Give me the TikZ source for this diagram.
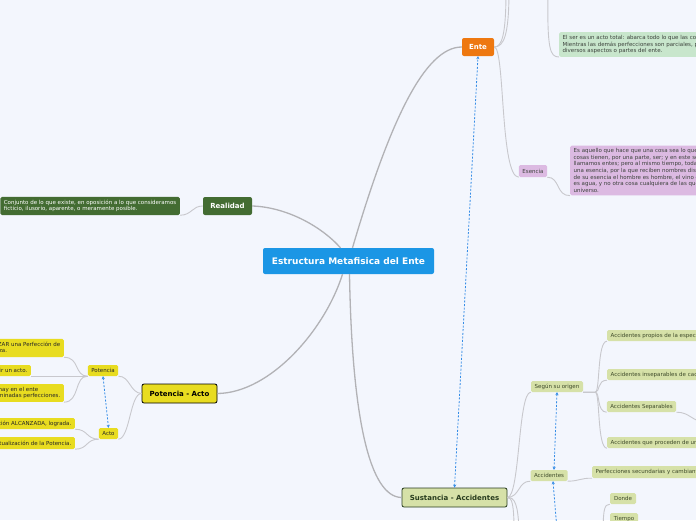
\documentclass[tikz,border=0pt]{standalone}
\usepackage{fontspec}
\setmainfont{DejaVu Sans}
\usepackage{xcolor}
\usetikzlibrary{arrows.meta}
\definecolor{bgpage}{RGB}{243,246,253}
\definecolor{titleblue}{RGB}{27,150,229}
\definecolor{enteorange}{RGB}{238,120,16}
\definecolor{realgreen}{RGB}{67,108,50}
\definecolor{potyellow}{RGB}{232,220,32}
\definecolor{sustgreen}{RGB}{214,225,168}
\definecolor{sustdark}{RGB}{40,60,30}
\definecolor{notegreen}{RGB}{200,230,204}
\definecolor{notelilac}{RGB}{220,186,226}
\definecolor{linkgray}{RGB}{200,200,205}
\definecolor{mainlinkgray}{RGB}{178,178,182}
\definecolor{relblue}{RGB}{52,140,230}
\definecolor{olivetext}{RGB}{62,74,42}
\definecolor{notetext}{RGB}{60,66,60}

\begin{document}
\begin{tikzpicture}[x=1pt,y=1pt,
    raiz/.style={fill=titleblue,text=white,rounded corners=2pt,font=\bfseries\fontsize{9}{11}\selectfont,minimum width=171pt,minimum height=26pt,inner sep=0pt},
    tema/.style={rounded corners=2pt,font=\bfseries\fontsize{7}{8}\selectfont,minimum height=18pt,inner sep=0pt},
    hoja/.style={rounded corners=1.5pt,font=\fontsize{5.5}{6.6}\selectfont,minimum height=11pt,inner xsep=3.5pt,inner ysep=0pt},
    amarilla/.style={hoja,fill=potyellow,text=black!85},
    oliva/.style={hoja,fill=sustgreen,text=olivetext},
    nota/.style={hoja,align=left,inner ysep=3pt},
    rama/.style={draw=linkgray,line width=0.9pt},
    ramaprin/.style={draw=mainlinkgray,line width=1.3pt},
    relacion/.style={draw=relblue,line width=0.8pt,dash pattern=on 2pt off 1.6pt,arrows={Stealth[length=3pt,width=3.2pt]-Stealth[length=3pt,width=3.2pt]}},
    relacionuna/.style={relacion,arrows={Stealth[length=3pt,width=3.2pt]-}},
  ]
\path[use as bounding box,fill=bgpage] (0,0) rectangle (696,-520);
\clip (0,0) rectangle (696,-520);

% temas principales
\node[raiz] (centro) at (348.5,-261) {Estructura Metafisica del Ente};
\node[tema,fill=enteorange,text=white,minimum width=32pt] (ente) at (478,-47) {Ente};
\node[tema,fill=realgreen,text=white,minimum width=49pt] (realidad) at (227.5,-206) {Realidad};
\node[tema,fill=potyellow,draw=black,line width=0.8pt,minimum width=75pt,minimum height=19pt] (potacto) at (179.5,-393.5) {Potencia - Acto};
\node[tema,fill=sustgreen,draw=sustdark,line width=0.8pt,text=sustdark,minimum width=105pt,minimum height=19pt] (sustancia) at (454.5,-497.5) {Sustancia - Accidentes};

% Ente
\node[nota,fill=notegreen,text=notetext,anchor=west] (sernota) at (559,-44.5)
  {El ser es un acto total: abarca todo lo que las cosas son.\\Mientras las demás perfecciones son parciales, pues sólo indican\\diversos aspectos o partes del ente.};
\node[hoja,fill=notelilac,text=notetext,minimum width=28pt,minimum height=12pt] (esencia) at (533,-171) {Esencia};
\node[nota,fill=notelilac,text=notetext,anchor=west] (esenota) at (570,-170.5)
  {Es aquello que hace que una cosa sea lo que es. Todas las\\cosas tienen, por una parte, ser; y en este sentido a todas\\llamamos entes; pero al mismo tiempo, todas tienen también\\una esencia, por la que reciben nombres distintos: en virtud\\de su esencia el hombre es hombre, el vino es vino, el agua\\es agua, y no otra cosa cualquiera de las que hay en el\\universo.};

% Realidad
\node[nota,fill=realgreen,text=white,anchor=east] (realnota) at (180,-206)
  {Conjunto de lo que existe, en oposición a lo que consideramos\\ficticio, ilusorio, aparente, o meramente posible.};

% Potencia - Acto
\node[amarilla,minimum width=30pt] (potencia) at (103,-370.5) {Potencia};
\node[amarilla,minimum width=19pt] (acto) at (108.5,-433.5) {Acto};
\node[nota,fill=potyellow,text=black!85,anchor=east] (pot1) at (64,-348) {Capacidad de ALCANZAR una Perfección de\\de cualquier naturaleza.};
\node[amarilla,anchor=east] (pot2) at (31,-370.5) {Capacidad de recibir un acto.};
\node[nota,fill=potyellow,text=black!85,anchor=east] (pot3) at (64,-393) {Capacidad que hay en el ente\\de recibir determinadas perfecciones.};
\node[amarilla,anchor=east] (act1) at (75,-423.5) {Es la perfección ALCANZADA, lograda.};
\node[amarilla,anchor=east,minimum height=12pt] (act2) at (75,-443) {Es la actualización de la Potencia.};

% Sustancia - Accidentes
\node[oliva,minimum width=52pt] (origen) at (557,-386.5) {Según su origen};
\node[oliva,minimum width=36pt] (accid) at (549,-475.5) {Accidentes};
\node[oliva,anchor=west] (orig1) at (607,-335.5) {Accidentes propios de la especie};
\node[oliva,anchor=west] (orig2) at (607,-374.5) {Accidentes inseparables de cada individuo};
\node[oliva,minimum width=69pt] (orig3) at (641.5,-406.5) {Accidentes Separables};
\node[oliva,anchor=west] (orig4) at (607,-442.5) {Accidentes que proceden de un agente externo};
\node[oliva,anchor=west,minimum height=12pt] (perfec) at (592,-472) {Perfecciones secundarias y cambiantes de la sustancia};
\node[oliva,minimum width=26pt] (donde) at (623,-498.5) {Donde};
\node[oliva,minimum width=28pt] (tiempo) at (624,-518.5) {Tiempo};

% puntos fuera del cuadro
\coordinate (enteup1) at (506,10);
\coordinate (enteup2) at (509,10);
\coordinate (serup) at (548,10);
\coordinate (sepkid) at (706,-422);
\coordinate (sustdown1) at (514,-530);
\coordinate (sustdown2) at (519,-530);
\coordinate (dtpadre) at (603,-540);
\coordinate (accabajo) at (557,-530);

% ramas del centro
\draw[ramaprin] ([xshift=4pt]centro.north) .. controls (390,-120) and (425,-47) .. (ente.west);
\draw[ramaprin] ([xshift=-8pt]centro.north) .. controls (320,-225) and (285,-207) .. (realidad.east);
\draw[ramaprin] ([xshift=-6pt]centro.south) .. controls (325,-330) and (270,-393) .. (potacto.east);
\draw[ramaprin] ([xshift=1pt]centro.south) .. controls (352,-420) and (370,-497) .. (sustancia.west);

% ramas de Ente
\draw[rama] (ente.east) .. controls (502,-47) and (506,-35) .. (enteup1);
\draw[rama] (ente.east) .. controls (504,-47) and (509,-35) .. (enteup2);
\draw[rama] (serup) .. controls (547,-50) and (550,-57) .. (sernota.south west);
\draw[rama] (ente.east) .. controls (505,-47) and (500,-177) .. (esencia.south west);
\draw[rama] (esencia.south east) .. controls (560,-177) and (556,-196) .. (esenota.south west);

% ramas de Realidad
\draw[rama] (realidad.west) .. controls (192,-206) and (192,-215) .. (realnota.south east);

% ramas de Potencia - Acto
\draw[rama] (potacto.west) .. controls (130,-393) and (130,-376) .. (potencia.south east);
\draw[rama] (potacto.west) .. controls (130,-393) and (130,-439) .. (acto.south east);
\draw[rama] (potencia.south west) -- (pot2.south east);
\foreach \n in {pot1,pot3}
  \draw[rama] (potencia.south west) .. controls (74,-376) and (80,0|-\n.south east) .. (\n.south east);
\foreach \n in {act1,act2}
  \draw[rama] (acto.south west) .. controls (86,-439) and (88,0|-\n.south east) .. (\n.south east);

% ramas de Sustancia - Accidentes
\draw[rama] (sustancia.east) .. controls (520,-497) and (518,-392) .. (origen.south west);
\draw[rama] (sustancia.east) .. controls (520,-497) and (518,-481) .. (accid.south west);
\draw[rama] (sustancia.east) .. controls (512,-497) and (514,-505) .. (sustdown1);
\draw[rama] (sustancia.east) .. controls (515,-497) and (518,-505) .. (sustdown2);
\foreach \n in {orig1,orig2,orig3,orig4}
  \draw[rama] (origen.south east) -- ++(12,0) .. controls +(5,0) and +(-10,0) .. (\n.south west);
\draw[rama] (orig3.south east) .. controls (690,-412) and (692,-422) .. (sepkid);
\draw[rama] (accid.south east) .. controls (580,-481) and (580,-478) .. (perfec.south west);
\draw[rama] (dtpadre) .. controls (603,-510) and (604,-504) .. (donde.south west);
\draw[rama] (dtpadre) .. controls (604,-525) and (605,-524) .. (tiempo.south west);

% relaciones
\draw[relacion] (sustancia.north) -- (ente.south);
\draw[relacion] (potencia.south) -- (acto.north);
\draw[relacion] (origen.south) -- ([xshift=5pt]accid.north);
\draw[relacionuna] ([xshift=4pt]accid.south) -- (accabajo);
\end{tikzpicture}
\end{document}
